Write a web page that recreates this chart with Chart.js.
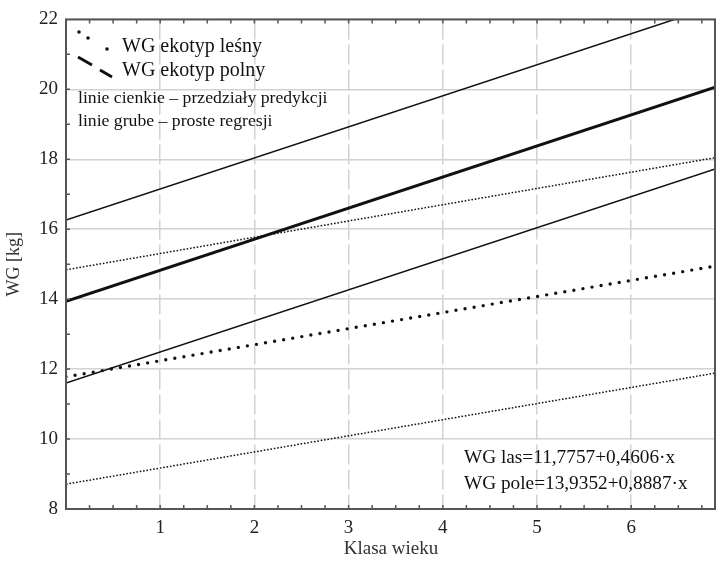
<!DOCTYPE html>
<html>
<head>
<meta charset="utf-8">
<script src="https://cdn.jsdelivr.net/npm/chart.js@4"></script>
<style>
  html, body { margin: 0; padding: 0; background: #fff; }
  canvas { display: block; }
</style>
</head>
<body>
<canvas id="wykres" width="716" height="561"></canvas>
<script>
// dane (klasa wieku -> WG [kg])
const klasaWieku = [0, 6.9];
const lasRegresja = [11.78, 14.95];
const lasGorny = [14.84, 18.05];
const lasDolny = [8.71, 11.89];
const poleRegresja = [13.94, 20.07];
const poleGorny = [16.26, 22.39];
const poleDolny = [11.60, 17.73];

const etykietyX = [0, 1, 2, 3, 4, 5, 6];
const etykietyY = [8, 10, 12, 14, 16, 18, 20, 22];

const FONT = "'Liberation Serif', 'DejaVu Serif', serif";

function punkty(ys) {
  return klasaWieku.map((x, i) => ({ x: x, y: ys[i] }));
}

function seria(label, ys, szer, dash, cap) {
  return {
    label: label,
    data: punkty(ys),
    showLine: true,
    borderColor: '#111',
    borderWidth: szer,
    borderDash: dash,
    borderCapStyle: cap || 'butt',
    pointRadius: 0,
    fill: false,
    clip: 0
  };
}

// ramka, znaczniki podziałki, opisy osi, legenda i równania
const dodatki = {
  id: 'dodatki',
  afterDraw(chart) {
    const ctx = chart.ctx;
    const a = chart.chartArea;
    const sx = chart.scales.x, sy = chart.scales.y;
    ctx.save();

    // ramka
    ctx.strokeStyle = '#555';
    ctx.lineWidth = 2;
    ctx.strokeRect(a.left, a.top, a.right - a.left - 1, a.bottom - a.top);

    // znaczniki do środka
    ctx.lineWidth = 1.5;
    ctx.beginPath();
    for (let v = 0.25; v < 6.9; v += 0.25) {
      const px = sx.getPixelForValue(v);
      ctx.moveTo(px, a.bottom); ctx.lineTo(px, a.bottom - 4);
      ctx.moveTo(px, a.top); ctx.lineTo(px, a.top + 4);
    }
    for (let v = 9; v < 22; v += 1) {
      const py = sy.getPixelForValue(v);
      ctx.moveTo(a.left, py); ctx.lineTo(a.left + 4, py);
    }
    ctx.stroke();

    // opisy osi
    ctx.fillStyle = '#333';
    ctx.font = '19px ' + FONT;
    ctx.textAlign = 'center';
    ctx.textBaseline = 'middle';
    ctx.fillText('Klasa wieku', (a.left + a.right) / 2, 549);
    ctx.save();
    ctx.translate(14, (a.top + a.bottom) / 2);
    ctx.rotate(-Math.PI / 2);
    ctx.font = '18px ' + FONT;
    ctx.fillText('WG [kg]', 0, 0);
    ctx.restore();

    // legenda
    ctx.fillStyle = '#111';
    [[79, 32], [88, 38], [107, 49]].forEach(p => {
      ctx.beginPath();
      ctx.arc(p[0], p[1], 1.8, 0, Math.PI * 2);
      ctx.fill();
    });
    ctx.strokeStyle = '#111';
    ctx.lineWidth = 3;
    ctx.beginPath();
    ctx.moveTo(78, 57); ctx.lineTo(92, 65);
    ctx.moveTo(100, 70); ctx.lineTo(112, 77);
    ctx.stroke();

    ctx.textAlign = 'left';
    ctx.textBaseline = 'alphabetic';
    ctx.font = '20px ' + FONT;
    ctx.fillText('WG ekotyp leśny', 122, 52);
    ctx.fillText('WG ekotyp polny', 122, 76);
    ctx.font = '17.7px ' + FONT;
    ctx.fillText('linie cienkie – przedziały predykcji', 78, 103);
    ctx.fillText('linie grube – proste regresji', 78, 126);

    // równania
    ctx.font = '19.3px ' + FONT;
    ctx.fillText('WG las=11,7757+0,4606·x', 464, 463);
    ctx.fillText('WG pole=13,9352+0,8887·x', 464, 489);

    ctx.restore();
  }
};

new Chart(document.getElementById('wykres'), {
  type: 'scatter',
  data: {
    datasets: [
      seria('WG ekotyp leśny – przedział górny', lasGorny, 1.5, [1.6, 1.8]),
      seria('WG ekotyp leśny – przedział dolny', lasDolny, 1.5, [1.6, 1.8]),
      seria('WG ekotyp polny – przedział górny', poleGorny, 1.5, []),
      seria('WG ekotyp polny – przedział dolny', poleDolny, 1.5, []),
      seria('WG ekotyp polny', poleRegresja, 3, []),
      seria('WG ekotyp leśny', lasRegresja, 3.4, [0, 9.2], 'round')
    ]
  },
  options: {
    responsive: false,
    animation: false,
    layout: { padding: { top: 18, right: 0, left: 0, bottom: 0 } },
    plugins: {
      legend: { display: false },
      tooltip: { enabled: false }
    },
    scales: {
      x: {
        type: 'linear',
        min: 0,
        max: 6.9,
        afterBuildTicks: s => { s.ticks = etykietyX.map(v => ({ value: v })); },
        afterFit: s => { s.height = 52; },
        grid: { color: '#d2d2d2', lineWidth: 1.5, drawTicks: false },
        border: { display: false, dash: [20, 5] },
        ticks: {
          padding: 8,
          color: '#222',
          font: { family: FONT, size: 19 },
          callback: v => (v === 0 ? '' : v)
        }
      },
      y: {
        type: 'linear',
        min: 8,
        max: 22,
        afterBuildTicks: s => { s.ticks = etykietyY.map(v => ({ value: v })); },
        afterFit: s => { s.width = 66; },
        grid: { color: '#d2d2d2', lineWidth: 1.5, drawTicks: false },
        border: { display: false },
        ticks: {
          padding: 8,
          color: '#222',
          font: { family: FONT, size: 19 }
        }
      }
    }
  },
  plugins: [dodatki]
});
</script>
</body>
</html>
